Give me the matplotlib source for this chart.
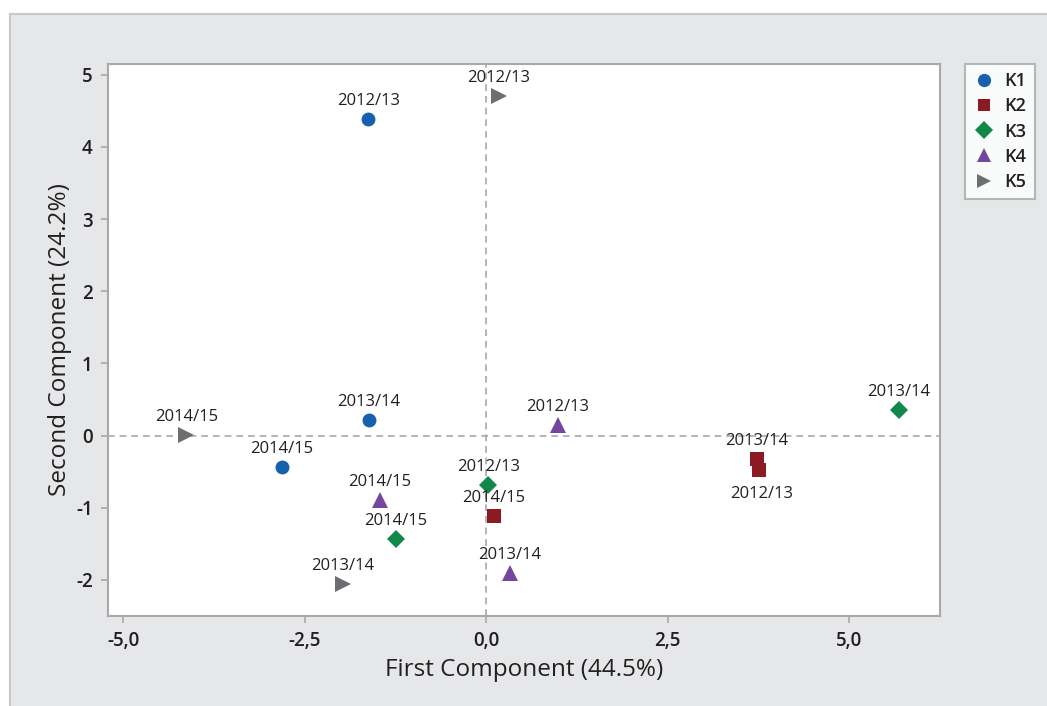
import matplotlib
matplotlib.use("Agg")
import matplotlib.pyplot as plt
from matplotlib.patches import Rectangle
from matplotlib.lines import Line2D
from matplotlib.ticker import FixedLocator, FixedFormatter

plt.rcParams['font.family'] = ['Open Sans', 'DejaVu Sans']

clusters = ["K1", "K2", "K3", "K4", "K5"]
k1_x = [-1.62, -1.61, -2.81]
k1_y = [4.39, 0.22, -0.43]
k1_lab = ["2012/13", "2013/14", "2014/15"]
k2_x = [3.73, 3.76, 0.11]
k2_y = [-0.32, -0.48, -1.12]
k2_lab = ["2013/14", "2012/13", "2014/15"]
k3_x = [5.69, 0.03, -1.24]
k3_y = [0.35, -0.69, -1.43]
k3_lab = ["2013/14", "2012/13", "2014/15"]
k4_x = [0.99, -1.46, 0.33]
k4_y = [0.15, -0.89, -1.90]
k4_lab = ["2012/13", "2014/15", "2013/14"]
k5_x = [0.18, -4.13, -1.97]
k5_y = [4.70, 0.01, -2.06]
k5_lab = ["2012/13", "2014/15", "2013/14"]

xticks = [-5.0, -2.5, 0.0, 2.5, 5.0]
xticklabels = ["-5,0", "-2,5", "0,0", "2,5", "5,0"]
yticks = [-2, -1, 0, 1, 2, 3, 4, 5]
yticklabels = ["-2", "-1", "0", "1", "2", "3", "4", "5"]

xs = [k1_x, k2_x, k3_x, k4_x, k5_x]
ys = [k1_y, k2_y, k3_y, k4_y, k5_y]
labs = [k1_lab, k2_lab, k3_lab, k4_lab, k5_lab]
colors = ["#1660b0", "#8c1a22", "#10884a", "#7446a0", "#6d6e71"]
markers = ["o", "s", "D", "^", ">"]
msizes = [10, 9.5, 9.5, 11, 11]
below = {("K2", "2012/13")}

TXT = "#231f20"
W, H = 1047, 706
fig = plt.figure(figsize=(W / 100, H / 100), dpi=100, facecolor="white")
fig.patches.append(Rectangle((10 / W, -0.01), 1.0, 1 - 14 / H + 0.01, transform=fig.transFigure,
                             facecolor="#e6e7e9", edgecolor="#c8c8c8", linewidth=1.5, zorder=-10))

ax = fig.add_axes([108 / W, 1 - 616 / H, (940 - 108) / W, (616 - 64) / H])
ax.set_facecolor("white")
ax.set_xlim(-5.207, 6.253)
ax.set_ylim(-2.5, 5.15)

ax.axhline(0, color="#a8a8a8", linestyle=(0, (4, 3)), linewidth=1.2, zorder=1)
ax.axvline(0, color="#a8a8a8", linestyle=(0, (4, 3)), linewidth=1.2, zorder=1)

for name, x, y, lab, c, m, ms in zip(clusters, xs, ys, labs, colors, markers, msizes):
    ax.plot(x, y, linestyle="none", marker=m, color=c, markersize=ms, markeredgewidth=0, zorder=3)
    for xi, yi, li in zip(x, y, lab):
        dy = -17 if (name, li) in below else 13
        dx = 2 if (name, li) in below else 0
        ax.annotate(li, (xi, yi), xytext=(dx, dy), textcoords="offset points",
                    ha="center", va="center", fontsize=12, color=TXT, zorder=4)

for s in ax.spines.values():
    s.set_color("#a8a8a8")
    s.set_linewidth(1.5)

ax.xaxis.set_major_locator(FixedLocator(xticks))
ax.xaxis.set_major_formatter(FixedFormatter(xticklabels))
ax.yaxis.set_major_locator(FixedLocator(yticks))
ax.yaxis.set_major_formatter(FixedFormatter(yticklabels))
ax.tick_params(axis="both", direction="out", length=5, width=1.2, color="#a8a8a8",
               labelsize=13.5, labelcolor=TXT)
ax.tick_params(axis="x", pad=6)
ax.tick_params(axis="y", pad=6)
for t in ax.get_xticklabels() + ax.get_yticklabels():
    t.set_fontweight("semibold")

ax.set_xlabel("First Component (44.5%)", fontsize=17.5, color=TXT, va="center", fontweight="medium")
ax.xaxis.set_label_coords(0.5, -54 / 552)
ax.set_ylabel("Second Component (24.2%)", fontsize=17.5, color=TXT, va="center", ha="center",
              fontweight="medium")
ax.yaxis.set_label_coords(-48 / 832, 0.5)

handles = [Line2D([], [], linestyle="none", marker=m, color=c, markersize=ms * 0.95, markeredgewidth=0)
           for c, m, ms in zip(colors, markers, msizes)]
leg = fig.legend(handles, clusters, loc="upper left", bbox_to_anchor=(965 / W, 1 - 64 / H),
                 frameon=True, fancybox=False, fontsize=13, handlelength=1.2, handletextpad=0.55,
                 labelspacing=0.4, borderpad=0.45, borderaxespad=0)
leg.get_frame().set_edgecolor("#a8a8a8")
leg.get_frame().set_linewidth(1.5)
leg.get_frame().set_facecolor("white")
for t in leg.get_texts():
    t.set_fontweight("semibold")
    t.set_color(TXT)

fig.savefig("out.png", dpi=100, facecolor=fig.get_facecolor())
